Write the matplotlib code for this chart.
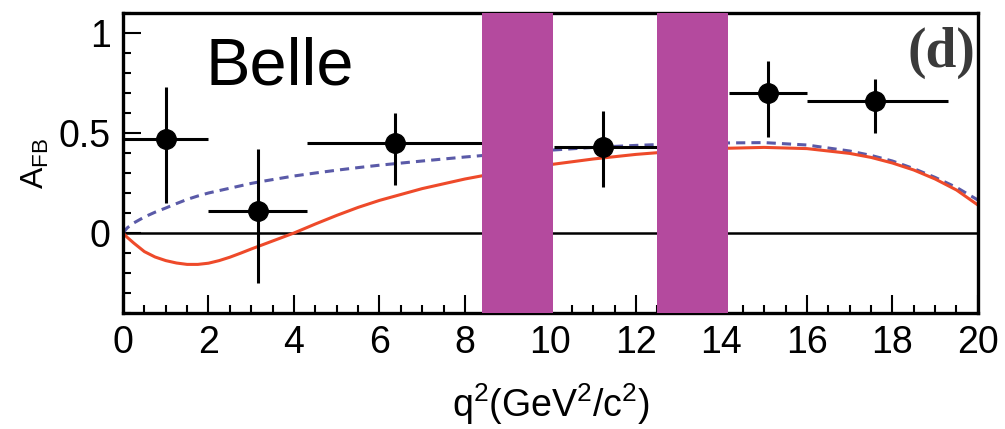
import numpy as np
import matplotlib
matplotlib.use("Agg")
import matplotlib.pyplot as plt
from matplotlib.ticker import MultipleLocator

plt.rcParams.update({
    "font.family": ["Liberation Sans", "DejaVu Sans"],
    "mathtext.fontset": "custom",
    "mathtext.rm": "Liberation Sans",
    "mathtext.it": "Liberation Sans",
})

# Belle A_FB data points (bin centre, bin edges, value, asymmetric errors)
q2_centre = [1.0, 3.16, 6.36, 11.23, 15.09, 17.6]
q2_lo = [0.0, 2.0, 4.3, 10.09, 14.18, 16.0]
q2_hi = [2.0, 4.3, 8.68, 12.86, 16.0, 19.3]
afb = [0.47, 0.11, 0.45, 0.43, 0.70, 0.66]
err_up = [0.26, 0.31, 0.15, 0.18, 0.16, 0.11]
err_dn = [0.32, 0.36, 0.21, 0.20, 0.22, 0.16]

# theory curves
q2_curve = [0, 0.1, 0.25, 0.5, 0.75, 1, 1.25, 1.5, 1.75, 2, 2.25, 2.5, 2.75,
            3, 3.25, 3.5, 4, 4.5, 5, 5.5, 6, 7, 8, 9, 10, 11, 12, 13, 14, 15,
            16, 17, 17.5, 18, 18.5, 19, 19.5, 20]
afb_sm = [0, -0.022, -0.05, -0.093, -0.12, -0.138, -0.15, -0.157, -0.157,
          -0.151, -0.138, -0.121, -0.101, -0.08, -0.06, -0.04, 0.0, 0.045,
          0.088, 0.128, 0.163, 0.222, 0.27, 0.31, 0.342, 0.37, 0.393, 0.41,
          0.423, 0.428, 0.422, 0.398, 0.378, 0.35, 0.315, 0.27, 0.215, 0.14]
afb_c7 = [0, 0.026, 0.05, 0.08, 0.104, 0.125, 0.147, 0.168, 0.185, 0.2,
          0.212, 0.224, 0.236, 0.248, 0.258, 0.267, 0.285, 0.3, 0.314,
          0.327, 0.339, 0.36, 0.38, 0.398, 0.414, 0.428, 0.438, 0.446, 0.45,
          0.452, 0.44, 0.41, 0.388, 0.36, 0.322, 0.278, 0.228, 0.165]

# charmonium veto regions
veto_lo = [8.4, 12.5]
veto_hi = [10.05, 14.15]

fig = plt.figure(figsize=(10.05, 4.29), dpi=100)
ax = fig.add_axes([0.1224, 0.2704, 0.8506, 0.6993])

ax.axhline(0, color="black", lw=1.8, zorder=1)
ax.plot(q2_curve, afb_c7, color="#5a5aa8", lw=2.2, ls=(0, (3, 2)), zorder=2)
ax.plot(q2_curve, afb_sm, color="#ee4a2a", lw=2.2, zorder=2)

x = np.array(q2_centre)
xerr = [x - np.array(q2_lo), np.array(q2_hi) - x]
ax.errorbar(q2_centre, afb, yerr=[err_dn, err_up], xerr=xerr, fmt="o",
            color="black", ms=14, elinewidth=2.2, capsize=0, zorder=3)

for lo, hi in zip(veto_lo, veto_hi):
    ax.axvspan(lo, hi, color="#b44a9e", lw=0, zorder=4)

ax.set_xlim(0, 20)
ax.set_ylim(-0.4, 1.1)
ax.xaxis.set_major_locator(MultipleLocator(2))
ax.xaxis.set_minor_locator(MultipleLocator(0.5))
ax.yaxis.set_major_locator(MultipleLocator(0.5))
ax.yaxis.set_minor_locator(MultipleLocator(0.1))
ax.set_yticks([0, 0.5, 1])
ax.set_yticklabels(["0", "0.5", "1"])
ax.tick_params(which="both", direction="in", labelsize=27, width=1.5)
ax.tick_params(which="major", length=13, pad=9)
ax.tick_params(which="minor", length=6)
for s in ax.spines.values():
    s.set_linewidth(2.4)

ax.set_xlabel(r"q$^2$(GeV$^2$/c$^2$)", fontsize=27, labelpad=14)
ax.set_ylabel(r"A$_{\mathregular{FB}}$", fontsize=23)
ax.yaxis.set_label_coords(-0.084, 0.5)

ax.text(0.096, 0.76, "Belle", transform=ax.transAxes, fontsize=48,
        va="baseline", ha="left")
ax.text(0.997, 0.82, "(d)", transform=ax.transAxes, fontsize=40,
        family="Liberation Serif", fontweight="bold", va="baseline",
        ha="right", color="#3a3a3a")

fig.savefig("out.png", dpi=100)
